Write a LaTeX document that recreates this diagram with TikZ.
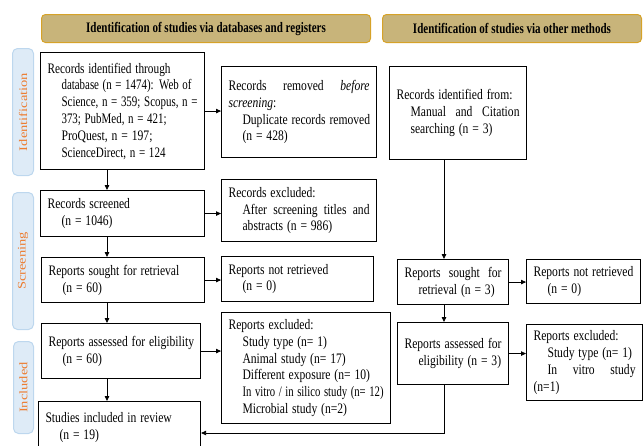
\documentclass[tikz,border=0pt]{standalone}
\usepackage{graphicx}
\usepackage{fontspec}
\setmainfont{Liberation Serif}
\usetikzlibrary{arrows.meta}
\definecolor{hdrfill}{RGB}{200,180,122}
\definecolor{hdrline}{RGB}{214,162,40}
\definecolor{sidefill}{RGB}{222,235,247}
\definecolor{sideline}{RGB}{189,215,238}
\definecolor{sidetext}{RGB}{237,125,49}
\newcommand{\ind}{\hspace*{14pt}}
\newcommand{\lin}[1]{\scalebox{0.8}[1]{#1}}
\newcommand{\fitl}[2]{\resizebox{#1}{\height}{#2}}
\newcommand{\jline}[2]{\scalebox{0.8}[1]{\hbox to \dimexpr #1*5/4\relax{#2}}}
\newcommand{\boxfont}{\fontsize{14.5}{16.8}\selectfont\spaceskip=2.6pt plus 1pt minus 0.5pt\relax}
\begin{document}
\begin{tikzpicture}[x=1pt,y=-1pt,
 box/.style={draw, line width=1.1pt, anchor=north west, inner xsep=7pt, inner ysep=0pt, align=left, font=\boxfont},
 hdr/.style={draw=hdrline, fill=hdrfill, line width=1pt, rounded corners=4pt, anchor=north west, inner sep=0pt, font=\fontsize{14.5}{16}\selectfont\bfseries},
 side/.style={draw=sideline, fill=sidefill, line width=1pt, rounded corners=5pt, anchor=north west, inner sep=0pt},
 sidelab/.style={rotate=90, text=sidetext, font=\fontsize{14.5}{16}\selectfont},
 arr/.style={line width=0.8pt, -{Triangle[length=5pt,width=4.5pt]}}]
\useasboundingbox (0,0) rectangle (643,445);
\clip (0,0) rectangle (643,445);

% headers
\node[hdr, minimum width=329, minimum height=28] (h1) at (41,14) {\scalebox{0.76}[1]{Identification of studies via databases and registers}};
\node[hdr, minimum width=259, minimum height=28] (h2) at (382,14) {\scalebox{0.76}[1]{Identification of studies via other methods}};

% side labels
\node[side, minimum width=21, minimum height=127] (s1) at (12,48) {};
\node[sidelab] (l1) at (s1.center) {\scalebox{1}[0.8]{Identification}};
\node[side, minimum width=21, minimum height=137] (s2) at (12,192) {};
\node[sidelab] (l2) at (s2.center) {\scalebox{1}[0.8]{Screening}};
\node[side, minimum width=20, minimum height=92] (s3) at (13,341) {};
\node[sidelab] (l3) at (s3.center) {\scalebox{1}[0.8]{Included}};

% left column
\node[box, minimum width=164, minimum height=117, text width=150] (b1) at (40,52) {\fitl{123pt}{Records identified through}\\ \ind\fitl{130pt}{database (n = 1474): Web of}\\ \ind\fitl{136pt}{Science, n = 359; Scopus, n =}\\ \ind\fitl{105pt}{373; PubMed, n = 421;}\\ \ind\fitl{91pt}{ProQuest, n = 197;}\\ \ind\fitl{104pt}{ScienceDirect, n = 124}};
\node[box, minimum width=155, minimum height=91, text width=141] (rem) at (221,66) {\jline{141pt}{Records\hfill removed\hfill \textit{before}}\\ \lin{\textit{screening}:}\\ \ind\lin{Duplicate records removed}\\ \ind\lin{(n = 428)}};
\node[box, minimum width=164, minimum height=46, text width=150] (scr) at (40,190) {\lin{Records screened}\\ \ind\lin{(n = 1046)}};
\node[box, minimum width=155, minimum height=62, text width=141] (exc) at (221,179) {\lin{Records excluded:}\\ \ind\jline{127pt}{After\hfill screening\hfill titles\hfill and}\\ \ind\lin{abstracts (n = 986)}};
\node[box, minimum width=163, minimum height=45, text width=149] (sou) at (41,257) {\lin{Reports sought for retrieval}\\ \ind\lin{(n = 60)}};
\node[box, minimum width=152, minimum height=45, text width=138] (nr) at (221,256) {\lin{Reports not retrieved}\\ \ind\lin{(n = 0)}};
\node[box, minimum width=159, minimum height=55, text width=145] (ass) at (41,323) {\lin{Reports assessed for eligibility}\\ \ind\lin{(n = 60)}};
\node[box, minimum width=169, minimum height=111, text width=155] (rex) at (221,312) {\lin{Reports excluded:}\\ \ind\lin{Study type (n= 1)}\\ \ind\lin{Animal study (n= 17)}\\ \ind\lin{Different exposure (n= 10)}\\ \ind\fitl{141pt}{In vitro / in silico study (n= 12)}\\ \ind\lin{Microbial study (n=2)}};
\node[box, minimum width=162, minimum height=52, text width=148] (inc) at (38,401) {\lin{Studies included in review}\\ \ind\lin{(n = 19)}};

% right column
\node[box, minimum width=137, minimum height=93, text width=123] (rid) at (389,66) {\lin{Records identified from:}\\ \ind\jline{109pt}{Manual\hfill and\hfill Citation}\\ \ind\lin{searching (n = 3)}};
\node[box, minimum width=111, minimum height=45, text width=97] (rsou) at (397,259) {\jline{97pt}{Reports\hfill sought\hfill for}\\ \ind\lin{retrieval (n = 3)}};
\node[box, minimum width=114, minimum height=44, text width=100] (rnr) at (526,259) {\lin{Reports not retrieved}\\ \ind\lin{(n = 0)}};
\node[box, minimum width=111, minimum height=62, text width=97] (rass) at (397,322) {\jline{97pt}{Reports\hfill assessed\hfill for}\\ \ind\lin{eligibility (n = 3)}};
\node[box, minimum width=116, minimum height=76, text width=102] (rex2) at (526,324) {\lin{Reports excluded:}\\ \ind\lin{Study type (n= 1)}\\ \ind\jline{88pt}{In\hfill vitro\hfill study}\\ \lin{(n=1)}};

% connectors
\coordinate (vx) at (107,0);
\coordinate (rx) at (444,0);
\coordinate (cb) at (444,433);
\draw[arr] (b1.east) -- (b1.east -| rem.west);
\draw[arr] (scr.east) -- (scr.east -| exc.west);
\draw[arr] (sou.east) -- (sou.east -| nr.west);
\draw[arr] (ass.east) -- (ass.east -| rex.west);
\draw[arr] (b1.south -| vx) -- (scr.north -| vx);
\draw[arr] (scr.south -| vx) -- (sou.north -| vx);
\draw[arr] (sou.south -| vx) -- (ass.north -| vx);
\draw[arr] (ass.south -| vx) -- (inc.north -| vx);
\draw[arr] (rid.south -| rx) -- (rsou.north -| rx);
\draw[arr] (rsou.south -| rx) -- (rass.north -| rx);
\draw[arr] (rsou.east) -- (rsou.east -| rnr.west);
\draw[arr] (rass.east) -- (rass.east -| rex2.west);
\draw[arr] (rass.south -| rx) -- (cb) -- (cb -| inc.east);
\end{tikzpicture}
\end{document}
